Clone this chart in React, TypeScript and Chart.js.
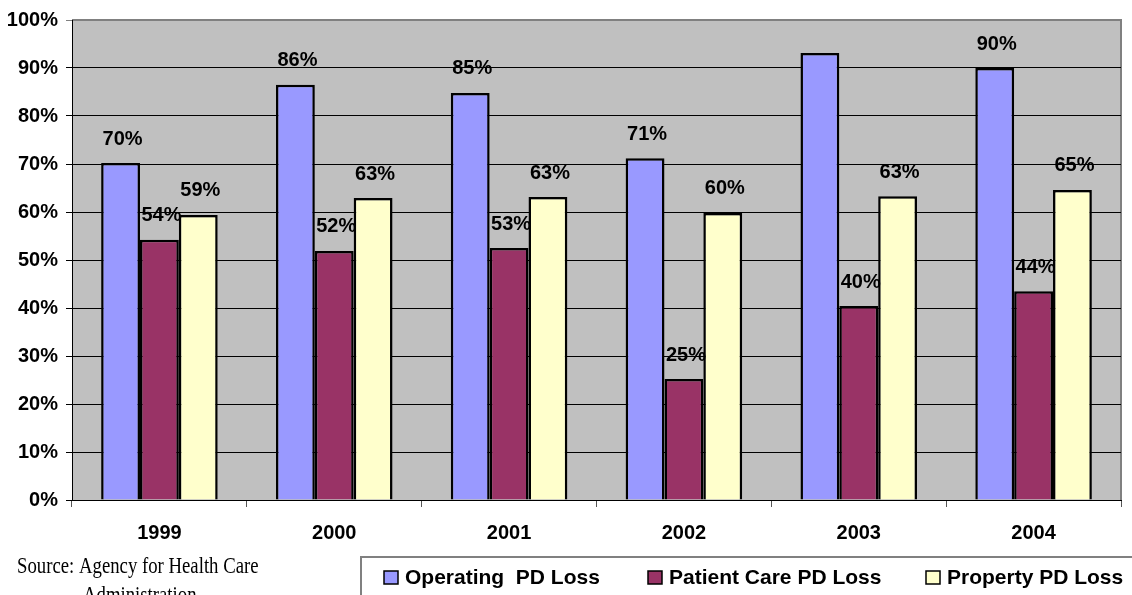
import React, { useEffect, useRef } from "react";
import { Chart, registerables } from "chart.js";

Chart.register(...registerables);

const years = ["1999", "2000", "2001", "2002", "2003", "2004"];
const operatingValues = [70.2, 86.5, 84.8, 71.2, 93.1, 90.0];
const patientCareValues = [54.2, 51.9, 52.5, 25.2, 40.4, 43.5];
const propertyValues = [59.4, 62.9, 63.1, 59.8, 63.3, 64.6];
const operatingLabels = ["70%", "86%", "85%", "71%", "", "90%"];
const patientCareLabels = ["54%", "52%", "53%", "25%", "40%", "44%"];
const propertyLabels = ["59%", "63%", "63%", "60%", "63%", "65%"];
const seriesNames = ["Operating  PD Loss", "Patient Care PD Loss", "Property PD Loss"];
const seriesColors = ["#9999FF", "#993366", "#FFFFCC"];
const yTicks = [0, 10, 20, 30, 40, 50, 60, 70, 80, 90, 100];
const sourceLines = ["Source: Agency for Health Care", "Administration"];

const BOLD = '"Liberation Sans", Arial, sans-serif';

export default function App() {
  const ref = useRef<HTMLCanvasElement | null>(null);

  useEffect(() => {
    const canvas = ref.current;
    if (!canvas) return;
    const allLabels = [operatingLabels, patientCareLabels, propertyLabels];

    const bgPlugin = {
      id: "bgPlugin",
      beforeDraw(chart: any) {
        const { ctx, chartArea: a } = chart;
        ctx.save();
        ctx.fillStyle = "#C0C0C0";
        ctx.fillRect(a.left, a.top, a.right - a.left, a.bottom - a.top);
        ctx.strokeStyle = "#808080";
        ctx.lineWidth = 2;
        ctx.beginPath();
        ctx.moveTo(a.left, a.top);
        ctx.lineTo(a.right, a.top);
        ctx.lineTo(a.right, a.bottom);
        ctx.stroke();
        ctx.restore();
      },
    };

    const labelPlugin = {
      id: "labelPlugin",
      afterDatasetsDraw(chart: any) {
        const ctx = chart.ctx;
        ctx.save();
        ctx.font = `bold 20px ${BOLD}`;
        ctx.fillStyle = "#000";
        ctx.textAlign = "center";
        ctx.textBaseline = "middle";
        chart.data.datasets.forEach((ds: any, di: number) => {
          const meta = chart.getDatasetMeta(di);
          meta.data.forEach((bar: any, i: number) => {
            const t = allLabels[di][i];
            if (!t) return;
            ctx.fillText(t, bar.x + 2, bar.y - 24);
          });
        });
        ctx.restore();
      },
    };

    const legendPlugin = {
      id: "legendPlugin",
      afterDraw(chart: any) {
        const ctx = chart.ctx;
        ctx.save();
        ctx.strokeStyle = "#808080";
        ctx.lineWidth = 2;
        ctx.strokeRect(361, 557, 800, 60);
        const xs = [384, 648, 926];
        ctx.font = `bold 21px ${BOLD}`;
        ctx.textBaseline = "middle";
        ctx.textAlign = "left";
        seriesNames.forEach((name, i) => {
          ctx.fillStyle = seriesColors[i];
          ctx.fillRect(xs[i], 571, 14, 13);
          ctx.strokeStyle = "#000";
          ctx.lineWidth = 1.5;
          ctx.strokeRect(xs[i], 571, 14, 13);
          ctx.fillStyle = "#000";
          ctx.fillText(name, xs[i] + 21, 578);
        });
        ctx.restore();

        ctx.save();
        ctx.fillStyle = "#000";
        ctx.font = '18.75px "Liberation Serif", "Times New Roman", serif';
        ctx.textBaseline = "alphabetic";
        ctx.textAlign = "left";
        ctx.scale(1, 1.2);
        ctx.fillText(sourceLines[0], 17, 573 / 1.2);
        ctx.fillText(sourceLines[1], 83, 602 / 1.2);
        ctx.restore();
      },
    };

    const chart = new Chart(canvas, {
      type: "bar",
      data: {
        labels: years,
        datasets: [operatingValues, patientCareValues, propertyValues].map((d, i) => ({
          label: seriesNames[i],
          data: d,
          backgroundColor: seriesColors[i],
          borderColor: "#000",
          borderWidth: 2.5,
          categoryPercentage: 2 / 3,
          barPercentage: 1,
        })),
      },
      options: {
        animation: false,
        responsive: false,
        maintainAspectRatio: false,
        layout: { padding: { top: 19, right: 11, left: 0, bottom: 0 } },
        plugins: { legend: { display: false }, tooltip: { enabled: false } },
        scales: {
          x: {
            grid: {
              offset: true,
              drawOnChartArea: false,
              drawTicks: true,
              tickLength: 7,
              color: "#555",
            },
            border: { color: "#000", width: 1 },
            ticks: {
              color: "#000",
              font: { family: BOLD, size: 20, weight: "bold" },
              padding: 14,
            },
            afterFit(scale: any) {
              scale.height = 95;
            },
          },
          y: {
            min: 0,
            max: 100,
            afterBuildTicks(scale: any) {
              scale.ticks = yTicks.map((v) => ({ value: v }));
            },
            grid: {
              color: (c: any) => (c.tick && c.tick.value === 100 ? "#808080" : "#000"),
              tickLength: 6,
              lineWidth: 1,
            },
            border: { color: "#000", width: 1 },
            ticks: {
              color: "#000",
              font: { family: BOLD, size: 20, weight: "bold" },
              padding: 8,
              callback: (v: any) => `${v}%`,
            },
            afterFit(scale: any) {
              scale.width = 72;
            },
          },
        },
      },
      plugins: [bgPlugin, labelPlugin, legendPlugin],
    });
    return () => chart.destroy();
  }, []);

  return (
    <div style={{ position: "fixed", left: 0, top: 0, width: 1132, height: 595, background: "#fff" }}>
      <canvas ref={ref} width={1132} height={595} style={{ width: 1132, height: 595, display: "block" }} />
    </div>
  );
}
